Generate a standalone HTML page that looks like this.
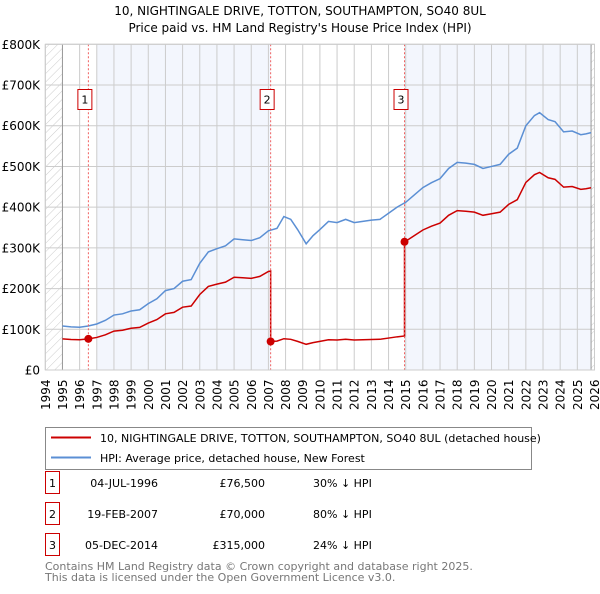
<!DOCTYPE html>
<html><head><meta charset="utf-8"><style>
body{margin:0;background:#fff;font-family:"DejaVu Sans","Liberation Sans",sans-serif;}
</style></head><body>
<svg id="c" width="600" height="590" xmlns="http://www.w3.org/2000/svg" style="font-family:'DejaVu Sans','Liberation Sans',sans-serif">
<defs><pattern id="hatch" width="6" height="6" patternUnits="userSpaceOnUse" patternTransform="rotate(45)"><line x1="0" y1="0" x2="0" y2="6" stroke="#ccc" stroke-width="1"/></pattern></defs>
<text x="300" y="15" text-anchor="middle" font-size="12">10, NIGHTINGALE DRIVE, TOTTON, SOUTHAMPTON, SO40 8UL</text>
<text x="300" y="32" text-anchor="middle" font-size="12">Price paid vs. HM Land Registry's House Price Index (HPI)</text>
<g id="plot"></g>
<rect x="45.5" y="427.5" width="486" height="42" fill="#fff" stroke="#888"/>
<line x1="51" y1="437.5" x2="91" y2="437.5" stroke="#cc0000" stroke-width="2"/>
<text x="100" y="442" font-size="11">10, NIGHTINGALE DRIVE, TOTTON, SOUTHAMPTON, SO40 8UL (detached house)</text>
<line x1="51" y1="457.5" x2="91" y2="457.5" stroke="#5b8fd4" stroke-width="2"/>
<text x="100" y="462" font-size="11">HPI: Average price, detached house, New Forest</text>
<g id="table" font-size="11"></g>
<text x="45" y="570" font-size="11" fill="#777">Contains HM Land Registry data © Crown copyright and database right 2025.</text>
<text x="45" y="581" font-size="11" fill="#777">This data is licensed under the Open Government Licence v3.0.</text>
</svg>
<script>
const hpiYears=[1995,1995.5,1996,1996.5,1997,1997.5,1998,1998.5,1999,1999.5,2000,2000.5,2001,2001.5,2002,2002.5,2003,2003.5,2004,2004.5,2005,2005.5,2006,2006.5,2007,2007.5,2007.9,2008.3,2008.7,2009.2,2009.6,2010,2010.5,2011,2011.5,2012,2012.5,2013,2013.5,2014,2014.5,2015,2015.5,2016,2016.5,2017,2017.5,2018,2018.5,2019,2019.5,2020,2020.5,2021,2021.5,2022,2022.5,2022.8,2023.3,2023.7,2024.2,2024.7,2025.2,2025.5,2025.8];
const hpiValues=[108,106,105,108,113,122,135,138,145,148,163,175,195,200,218,222,262,290,298,305,322,320,318,325,342,348,377,370,345,310,330,345,365,362,370,362,365,368,370,385,400,412,430,448,460,470,495,510,508,505,495,500,505,530,545,600,625,632,615,610,585,587,578,580,583];
const saleYears=[1996.51,2007.13,2014.93];
const salePrices=[76.5,70,315];
const saleLabels=["1","2","3"];
const saleDates=["04-JUL-1996","19-FEB-2007","05-DEC-2014"];
const salePriceText=["£76,500","£70,000","£315,000"];
const saleHpiText=["30% ↓ HPI","80% ↓ HPI","24% ↓ HPI"];
const yTicks=[0,100,200,300,400,500,600,700,800];
const yTickLabels=["£0","£100K","£200K","£300K","£400K","£500K","£600K","£700K","£800K"];

const X0=45.3,X1=594.5,Y0=370,Y1=44.3;
const xs=y=>X0+(y-1994)/32*(X1-X0);
const ys=v=>Y0-v/800*(Y0-Y1);
const NS="http://www.w3.org/2000/svg";
const plot=document.getElementById('plot');
function mk(tag,attrs,parent){const e=document.createElementNS(NS,tag);for(const k in attrs)e.setAttribute(k,attrs[k]);(parent||plot).appendChild(e);return e;}
function hpiAt(t){for(let i=0;i<hpiYears.length-1;i++){if(t<=hpiYears[i+1]){const f=(t-hpiYears[i])/(hpiYears[i+1]-hpiYears[i]);return hpiValues[i]+f*(hpiValues[i+1]-hpiValues[i]);}}return hpiValues[hpiValues.length-1];}
const endY=hpiYears[hpiYears.length-1];
let e;
e=mk('rect',{x:X0,y:Y1,width:X1-X0,height:Y0-Y1,fill:'#fff'});

e=mk('rect',{x:xs(1997),y:Y1,width:xs(saleYears[1])-xs(1997),height:Y0-Y1,fill:'#f3f6fd'});

e=mk('rect',{x:xs(saleYears[2]),y:Y1,width:xs(endY)-xs(saleYears[2]),height:Y0-Y1,fill:'#f3f6fd'});

e=mk('rect',{x:X0,y:Y1,width:xs(1995)-X0,height:Y0-Y1,fill:'url(#hatch)'});

e=mk('rect',{x:xs(endY),y:Y1,width:X1-xs(endY),height:Y0-Y1,fill:'url(#hatch)'});

for(let yr=1994;yr<=2026;yr++){
 e=mk('line',{x1:xs(yr),x2:xs(yr),y1:Y1,y2:Y0,stroke:'#ccc','stroke-width':1});
 
 const tx=xs(yr)+4.5;
 e=mk('text',{x:tx,y:410,'font-size':12,transform:`rotate(-90 ${tx} 410)`});
 
 e.textContent=yr;
}
yTicks.forEach((v,i)=>{
 e=mk('line',{x1:X0,x2:X1,y1:ys(v),y2:ys(v),stroke:'#ccc','stroke-width':1});
 
 e=mk('text',{x:40,y:ys(v)+4.5,'font-size':12,'text-anchor':'end'});
 
 e.textContent=yTickLabels[i];
});
e=mk('line',{x1:xs(1995),x2:xs(1995),y1:Y1,y2:Y0,stroke:'#999'});

e=mk('line',{x1:xs(endY),x2:xs(endY),y1:Y1,y2:Y0,stroke:'#999'});

e=mk('polyline',{points:hpiYears.map((t,i)=>xs(t)+','+ys(hpiValues[i])).join(' '),fill:'none',stroke:'#5b8fd4','stroke-width':1.5});

let pts=[];
const segStarts=[1995].concat(saleYears);
for(let s=0;s<segStarts.length;s++){
 const a=segStarts[s],b=s<saleYears.length?saleYears[s]:endY;
 const refIdx=s===0?0:s-1;
 const ratio=salePrices[refIdx]/hpiAt(saleYears[refIdx]);
 const times=[a].concat(hpiYears.filter(t=>t>a&&t<b)).concat([b]);
 times.forEach(t=>pts.push(xs(t)+','+ys(hpiAt(t)*ratio)));
}
e=mk('polyline',{points:pts.join(' '),fill:'none',stroke:'#cc0000','stroke-width':1.5});

saleYears.forEach((t,i)=>{
 e=mk('line',{x1:xs(t),x2:xs(t),y1:Y1,y2:Y0,stroke:'#f06060','stroke-dasharray':'2,2','stroke-width':1});
 
 e=mk('circle',{cx:xs(t),cy:ys(salePrices[i]),r:4,fill:'#cc0000'});
 
 e=mk('rect',{x:xs(t)-10.5,y:89.5,width:14,height:20,fill:'#fff',stroke:'#cc0000'});
 
 e=mk('text',{x:xs(t)-3.5,y:103.5,'font-size':11,'text-anchor':'middle'});
 
 e.textContent=saleLabels[i];
});
e=mk('rect',{x:X0,y:Y1,width:X1-X0,height:Y0-Y1,fill:'none',stroke:'#ccc'});

const tbl=document.getElementById('table');
const rowY=[479,510,541];
saleLabels.forEach((l,i)=>{
 const y=rowY[i];
 e=mk('rect',{x:45.5,y:y-7.5,width:14,height:22,fill:'#fff',stroke:'#cc0000'},tbl);
 
 e=mk('text',{x:52.5,y:y+8,'text-anchor':'middle'},tbl);e.textContent=l;
 
 e=mk('text',{x:158,y:y+8,'text-anchor':'end'},tbl);e.textContent=saleDates[i];
 
 e=mk('text',{x:265,y:y+8,'text-anchor':'end'},tbl);e.textContent=salePriceText[i];
 
 e=mk('text',{x:313,y:y+8},tbl);e.textContent=saleHpiText[i];
 
});
</script>
</body></html>
